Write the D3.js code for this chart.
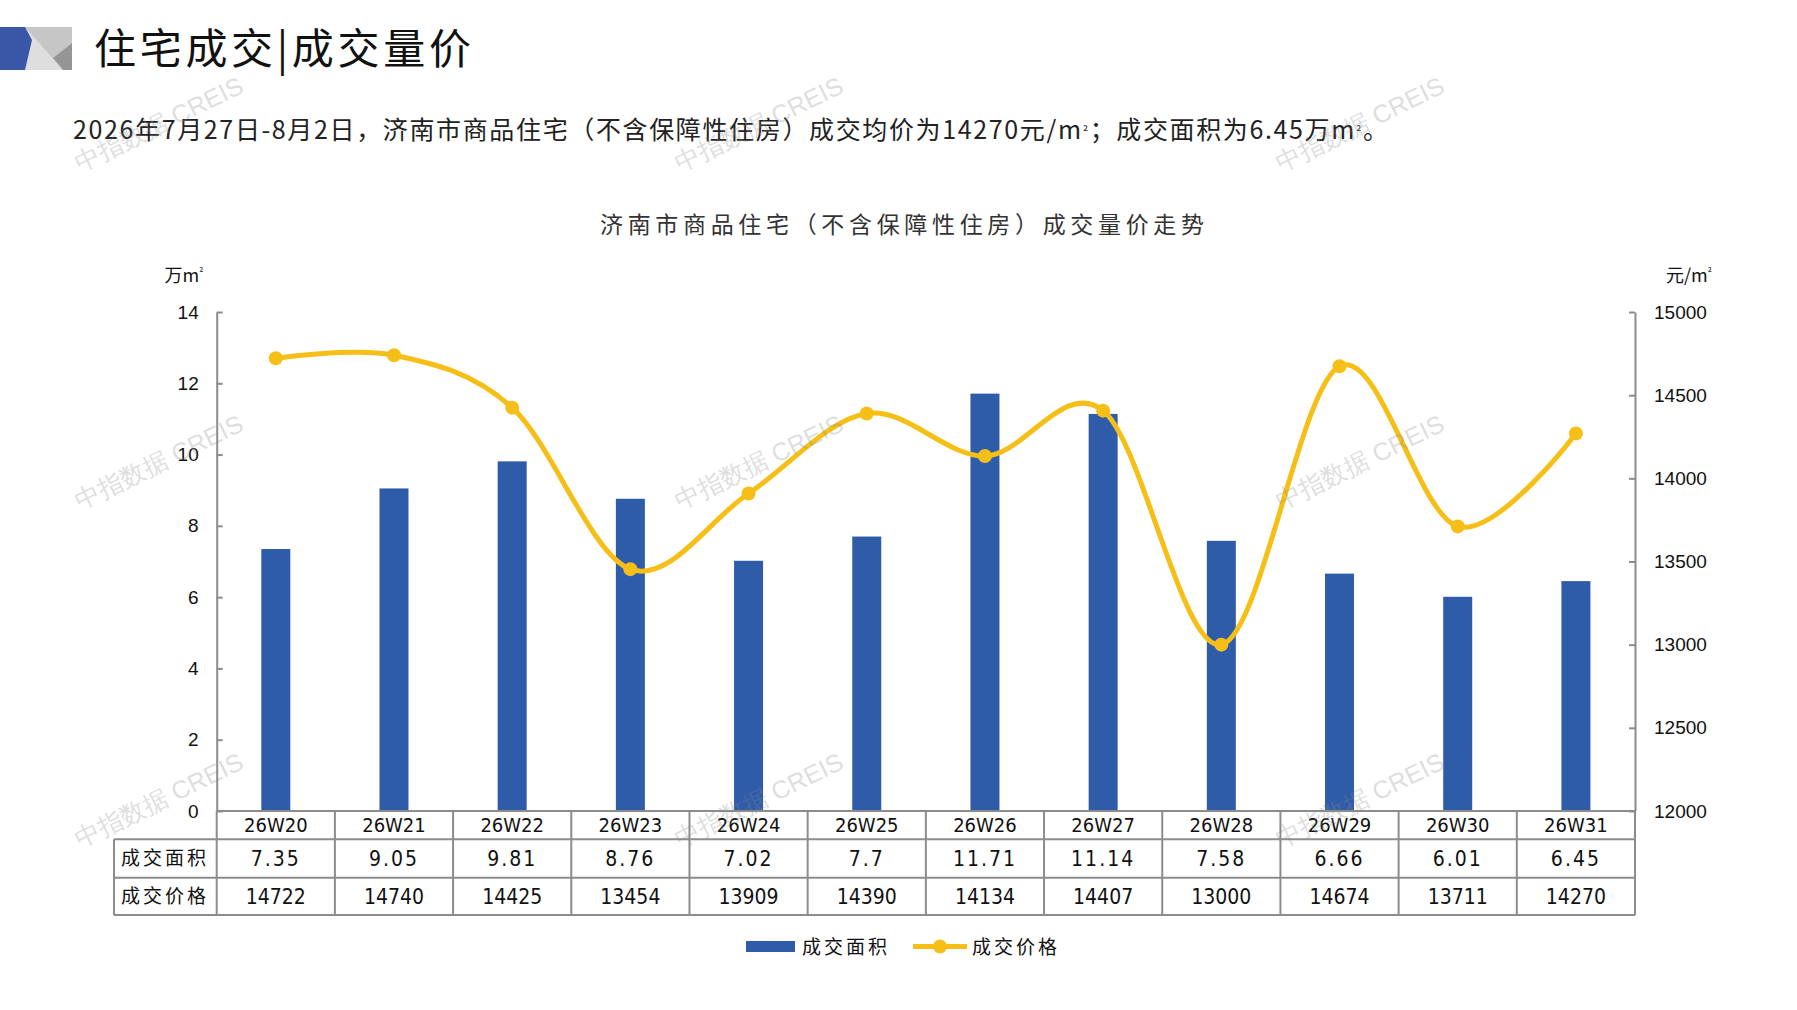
<!DOCTYPE html>
<html>
<head>
<meta charset="utf-8">
<script src="https://cdn.jsdelivr.net/npm/d3@7"></script>
<style>
  html, body { margin: 0; padding: 0; background: #fff; }
  svg { display: block; }
  .cjk { font-family: "Noto Sans CJK SC", "Noto Sans", sans-serif; }
  .num { font-family: "Liberation Sans", Arial, sans-serif; }
  .narrow { font-family: "Liberation Sans Narrow", "DejaVu Sans Condensed", "Roboto Condensed", "Liberation Sans", sans-serif; font-stretch: condensed; }
</style>
</head>
<body>
<div id="chart"></div>
<script>
// weekly data
var weeks = ["26W20", "26W21", "26W22", "26W23", "26W24", "26W25", "26W26", "26W27", "26W28", "26W29", "26W30", "26W31"];
var areaValues = [7.35, 9.05, 9.81, 8.76, 7.02, 7.7, 11.71, 11.14, 7.58, 6.66, 6.01, 6.45];
var priceValues = [14722, 14740, 14425, 13454, 13909, 14390, 14134, 14407, 13000, 14674, 13711, 14270];
var leftTicks = [0, 2, 4, 6, 8, 10, 12, 14];
var rightTicks = [12000, 12500, 13000, 13500, 14000, 14500, 15000];
var rowLabels = ["成交面积", "成交价格"];
var seriesNames = ["成交面积", "成交价格"];

var w = 1797;
var h = 1010;
var barColor = "#2f5ca9";
var lineColor = "#f6bf17";
var gridColor = "#8c8c8c";

var svg = d3.select("#chart")
            .append("svg")
            .attr("width", w)
            .attr("height", h);

// ---- header: logo + titles
var logo = svg.append("g");
logo.append("rect").attr("x", 25).attr("y", 27).attr("width", 47).attr("height", 43).attr("fill", "#dedede");
logo.append("polygon").attr("points", "25,27 72,27 72,43 53,58 63,70").attr("fill", "#c6c6c6");
logo.append("polygon").attr("points", "72,43 72,70 63,70 53,58").attr("fill", "#959595");
logo.append("polygon").attr("points", "0,27 25,27 32,40 25,70 0,70").attr("fill", "#3a57a7");

svg.append("text")
   .attr("class", "cjk")
   .attr("x", 94)
   .attr("y", 64)
   .attr("font-size", 42)
   .attr("fill", "#111")
   .attr("textLength", 377)
   .attr("lengthAdjust", "spacing")
   .text("住宅成交|成交量价");

// subtitle with small superscript "²"
var sub = svg.append("text")
   .attr("class", "cjk")
   .attr("x", 73)
   .attr("y", 139)
   .attr("font-size", 25)
   .attr("fill", "#222")
   .attr("textLength", 1315)
   .attr("lengthAdjust", "spacing");
var subParts = ["2026年7月27日-8月2日，济南市商品住宅（不含保障性住房）成交均价为14270元/m", "²", "；成交面积为6.45万m", "²", "。"];
subParts.forEach(function(p) {
	var t = sub.append("tspan").text(p);
	if (p == "²") t.attr("font-size", 13).attr("dy", -2);
	else t.attr("dy", 0);
});
sub.selectAll("tspan").filter(function(d, i) { return i == 2 || i == 4; }).attr("dy", 2);

svg.append("text")
   .attr("class", "cjk")
   .attr("x", 600)
   .attr("y", 233)
   .attr("font-size", 23)
   .attr("fill", "#333")
   .attr("textLength", 604)
   .attr("lengthAdjust", "spacing")
   .text("济南市商品住宅（不含保障性住房）成交量价走势");

// ---- scales
var x = d3.scaleBand().domain(weeks).range([216.7, 1635]);
var yL = d3.scaleLinear().domain([0, 14]).range([811, 312]);
var yR = d3.scaleLinear().domain([12000, 15000]).range([811, 312]);

// bars
svg.append("g")
   .selectAll("rect")
   .data(areaValues)
   .enter()
   .append("rect")
   .attr("x", function(d, i) { return x(weeks[i]) + x.bandwidth() / 2 - 14.5; })
   .attr("y", function(d) { return yL(d); })
   .attr("width", 29)
   .attr("height", function(d) { return yL(0) - yL(d); })
   .attr("fill", barColor);

// axes
var axisL = svg.append("g")
   .attr("transform", "translate(216.7,0)")
   .call(d3.axisLeft(yL).tickValues(leftTicks).tickSizeInner(-6).tickSizeOuter(0).tickPadding(18));
var axisR = svg.append("g")
   .attr("transform", "translate(1635,0)")
   .call(d3.axisRight(yR).tickValues(rightTicks).tickFormat(d3.format("d"))
           .tickSizeInner(-6).tickSizeOuter(0).tickPadding(19));

[axisL, axisR].forEach(function(a) {
	a.selectAll("path, line").attr("stroke", gridColor).attr("stroke-width", 2);
	a.selectAll("text")
	 .attr("class", "num")
	 .attr("font-size", 19)
	 .attr("fill", "#111");
});

// unit labels
var unitL = svg.append("text")
   .attr("class", "cjk")
   .attr("x", 184).attr("y", 282)
   .attr("text-anchor", "middle")
   .attr("font-size", 18)
   .attr("fill", "#111");
unitL.append("tspan").text("万m");
unitL.append("tspan").attr("font-size", 10).attr("dy", -6).text("²");
var unitR = svg.append("text")
   .attr("class", "cjk")
   .attr("x", 1689).attr("y", 282)
   .attr("text-anchor", "middle")
   .attr("font-size", 18)
   .attr("fill", "#111");
unitR.append("tspan").text("元/m");
unitR.append("tspan").attr("font-size", 10).attr("dy", -6).text("²");

// price line, smoothed like the spreadsheet
var line = d3.line()
   .x(function(d, i) { return x(weeks[i]) + x.bandwidth() / 2; })
   .y(function(d) { return yR(d); })
   .curve(d3.curveCatmullRom.alpha(0));

svg.append("path")
   .datum(priceValues)
   .attr("d", line)
   .attr("fill", "none")
   .attr("stroke", lineColor)
   .attr("stroke-width", 5);

svg.append("g")
   .selectAll("circle")
   .data(priceValues)
   .enter()
   .append("circle")
   .attr("cx", function(d, i) { return x(weeks[i]) + x.bandwidth() / 2; })
   .attr("cy", function(d) { return yR(d); })
   .attr("r", 7)
   .attr("fill", lineColor);

// ---- data table under the plot
var rowY = [811, 839.3, 877.7, 915];
var tableLeft = 114;
var grid = svg.append("g").attr("stroke", gridColor).attr("stroke-width", 2);

grid.append("line").attr("x1", 216.7).attr("x2", 1635).attr("y1", rowY[0]).attr("y2", rowY[0]);
rowY.slice(1).forEach(function(yy) {
	grid.append("line").attr("x1", tableLeft).attr("x2", 1635).attr("y1", yy).attr("y2", yy);
});
grid.append("line").attr("x1", tableLeft).attr("x2", tableLeft).attr("y1", rowY[1]).attr("y2", rowY[3]);
weeks.forEach(function(wk) {
	grid.append("line").attr("x1", x(wk)).attr("x2", x(wk)).attr("y1", rowY[0]).attr("y2", rowY[3]);
});
grid.append("line").attr("x1", 1635).attr("x2", 1635).attr("y1", rowY[0]).attr("y2", rowY[3]);

var cellMid = function(r) { return (rowY[r] + rowY[r + 1]) / 2; };

var tableRows = [weeks, areaValues, priceValues];
tableRows.forEach(function(row, r) {
	svg.append("g")
	   .selectAll("text")
	   .data(row)
	   .enter()
	   .append("text")
	   .attr("class", "narrow")
	   .attr("x", function(d, i) { return x(weeks[i]) + x.bandwidth() / 2; })
	   .attr("y", cellMid(r))
	   .attr("dy", "0.36em")
	   .attr("text-anchor", "middle")
	   .attr("font-size", r == 0 ? 20 : 21)
	   .attr("letter-spacing", r == 1 ? 2 : 0)
	   .attr("fill", "#111")
	   .text(function(d) { return d; });
});

rowLabels.forEach(function(lbl, r) {
	svg.append("text")
	   .attr("class", "cjk")
	   .attr("x", 165)
	   .attr("y", cellMid(r + 1))
	   .attr("dy", "0.36em")
	   .attr("text-anchor", "middle")
	   .attr("font-size", 19)
	   .attr("letter-spacing", 3)
	   .attr("fill", "#111")
	   .text(lbl);
});

// ---- legend
var legend = svg.append("g");
legend.append("rect").attr("x", 746).attr("y", 941).attr("width", 49).attr("height", 11).attr("fill", barColor);
legend.append("text").attr("class", "cjk")
      .attr("x", 802).attr("y", 947).attr("dy", "0.36em")
      .attr("font-size", 19).attr("letter-spacing", 3).attr("fill", "#111")
      .text(seriesNames[0]);
legend.append("line").attr("x1", 913).attr("x2", 967).attr("y1", 946.5).attr("y2", 946.5)
      .attr("stroke", lineColor).attr("stroke-width", 5);
legend.append("circle").attr("cx", 940).attr("cy", 946.5).attr("r", 7).attr("fill", lineColor);
legend.append("text").attr("class", "cjk")
      .attr("x", 972).attr("y", 947).attr("dy", "0.36em")
      .attr("font-size", 19).attr("letter-spacing", 3).attr("fill", "#111")
      .text(seriesNames[1]);

// ---- watermarks
var markX = [159, 759, 1360];
var markY = [124, 462, 800];
var marks = svg.append("g").attr("pointer-events", "none");
markY.forEach(function(my) {
	markX.forEach(function(mx) {
		marks.append("text")
		     .attr("class", "num")
		     .attr("transform", "translate(" + mx + "," + my + ") rotate(-26)")
		     .attr("text-anchor", "middle")
		     .attr("dy", "0.35em")
		     .attr("font-size", 25)
		     .attr("fill", "#8a8a8a")
		     .attr("fill-opacity", 0.3)
		     .text("中指数据 CREIS");
	});
});
</script>
</body>
</html>
